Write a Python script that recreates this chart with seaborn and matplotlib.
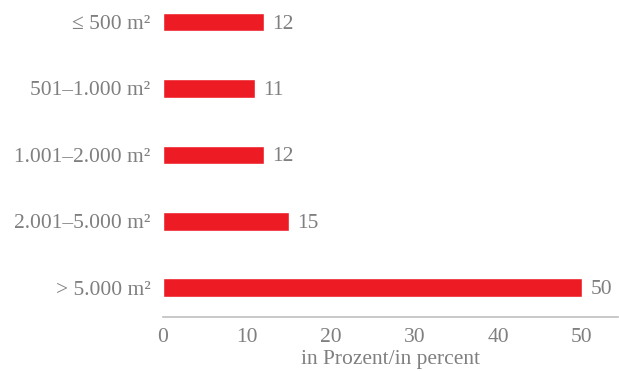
import matplotlib
matplotlib.use("Agg")
import matplotlib.pyplot as plt
import seaborn as sns
import pandas as pd

categories = ["≤ 500 m²", "501–1.000 m²", "1.001–2.000 m²", "2.001–5.000 m²", "> 5.000 m²"]
values = [12, 11, 12, 15, 50]
xticks = [0, 10, 20, 30, 40, 50]
xlabel = "in Prozent/in percent"

sns.set_theme(style="white")
plt.rcParams['font.family'] = ['Liberation Serif', 'DejaVu Serif']

GRAY = "#7f7f7f"
RED = "#ED1C24"
FS = 15.5

df = pd.DataFrame({"cat": categories, "val": values})

fig = plt.figure(figsize=(6.19, 3.71), dpi=100)
ax = fig.add_axes([163/619, 1-317/371, (618-163)/619, (317-2)/371])
sns.barplot(data=df, y="cat", x="val", orient="h", color=RED, saturation=1,
            width=0.28, ax=ax)
ax.set_xlim(0, 54.3)
ax.set_ylim(4.44, -0.3)
ax.set_xticks(xticks)
ax.set_xticklabels([str(t) for t in xticks], color=GRAY, fontsize=FS)
ax.set_yticks(range(len(categories)))
ax.set_yticklabels(categories, color=GRAY, fontsize=FS, va="center_baseline")
ax.tick_params(axis="both", length=0)
ax.tick_params(axis="y", pad=9)
ax.tick_params(axis="x", pad=8)
ax.set_ylabel("")
ax.set_xlabel(xlabel, color=GRAY, fontsize=FS, labelpad=2)
for s in ["top", "right", "left"]:
    ax.spines[s].set_visible(False)
ax.spines["bottom"].set_color("#bfbfbf")
ax.spines["bottom"].set_linewidth(1.2)
for i, v in enumerate(values):
    ax.annotate(str(v), (v, i), xytext=(6, -1.5), textcoords="offset points",
                va="center", ha="left", color=GRAY, fontsize=FS)
fig.savefig("out.png", dpi=100)
